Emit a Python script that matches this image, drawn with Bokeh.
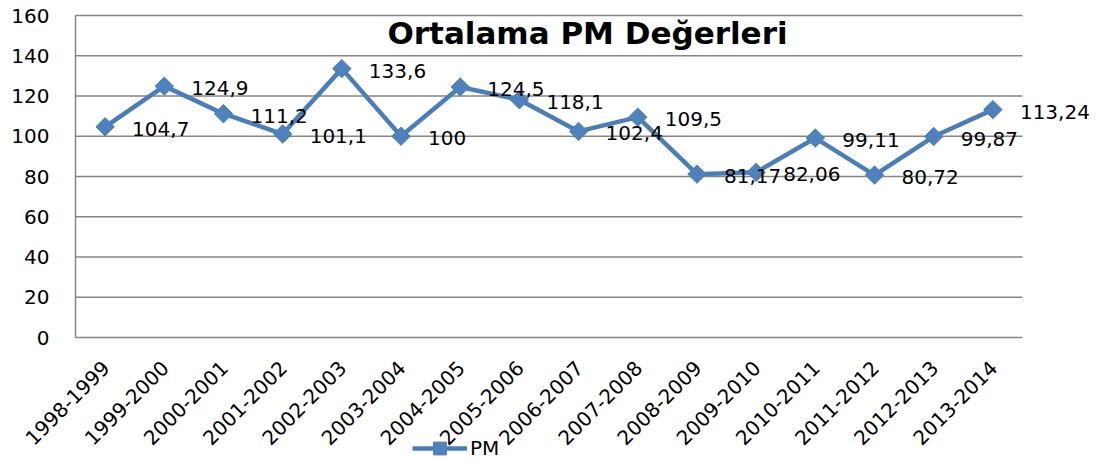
import numpy as np
from bokeh.plotting import figure
from bokeh.models import Range1d, Label, LabelSet, Legend, LegendItem, ColumnDataSource
from bokeh.core.properties import value
from bokeh.embed import file_html
from bokeh.resources import INLINE

# ---- data ----
periods = ["1998-1999", "1999-2000", "2000-2001", "2001-2002", "2002-2003", "2003-2004",
           "2004-2005", "2005-2006", "2006-2007", "2007-2008", "2008-2009", "2009-2010",
           "2010-2011", "2011-2012", "2012-2013", "2013-2014"]
pm_values = [104.7, 124.9, 111.2, 101.1, 133.6, 100, 124.5, 118.1, 102.4, 109.5,
             81.17, 82.06, 99.11, 80.72, 99.87, 113.24]
y_ticks = [0, 20, 40, 60, 80, 100, 120, 140, 160]
y_tick_labels = [str(t) for t in y_ticks]
series_name = "PM"
title_text = "Ortalama PM Değerleri"

n = len(periods)
x_idx = list(range(n))
x_lo, x_hi = -0.5, n - 0.5            # edges of the category bands
labels = [f"{v:g}".replace(".", ",") for v in pm_values]
src = ColumnDataSource(dict(x=x_idx, y=pm_values, lab=labels, period=periods))
grid_src = ColumnDataSource(dict(x0=[x_lo] * len(y_ticks), x1=[x_hi] * len(y_ticks),
                                 y=y_ticks, lab=y_tick_labels))

FONT = "DejaVu Sans"
BLUE = "#4A7EBB"
GRID = "#868686"

# canvas and where the plotting area (bands 0..n, values 0..160) sits on it
W, H = 1101, 461
LEFT, RIGHT, TOP, BOTTOM = 75, 1022, 15, 337
ux = (RIGHT - LEFT) / (x_hi - x_lo)
uy = (BOTTOM - TOP) / (y_ticks[-1] - y_ticks[0])
x_range = Range1d(x_lo - LEFT / ux, x_hi + (W - RIGHT) / ux)
y_range = Range1d(y_ticks[0] - (H - BOTTOM) / uy, y_ticks[-1] + TOP / uy)

p = figure(width=W, height=H, x_range=x_range, y_range=y_range,
           output_backend="svg", toolbar_location=None,
           min_border=0, min_border_left=0, min_border_right=0,
           min_border_top=0, min_border_bottom=0)
p.outline_line_color = None
p.background_fill_color = "white"
p.border_fill_color = "white"
p.xaxis.visible = False
p.yaxis.visible = False
p.xgrid.visible = False
p.ygrid.visible = False

# horizontal grid lines over the category bands
p.segment(x0="x0", x1="x1", y0="y", y1="y", source=grid_src, line_color=GRID,
          line_width=1.3, level="underlay")
# value axis line
p.segment(x0=[x_lo], x1=[x_lo], y0=[y_ticks[0]], y1=[y_ticks[-1]], line_color=GRID,
          line_width=1.5, level="underlay")

# value tick labels
p.add_layout(LabelSet(x=x_lo, y="y", text="lab", source=grid_src, x_offset=-26,
                      text_align="right", text_baseline="middle",
                      text_font=value(FONT), text_font_size=value("20px"),
                      text_color="black"))

# category tick labels, rotated 45 degrees under the axis
p.add_layout(LabelSet(x="x", y=y_ticks[0], text="period", source=src, angle=np.pi / 4,
                      x_offset=1, y_offset=-27, text_align="right", text_baseline="middle",
                      text_font=value(FONT), text_font_size=value("20px"),
                      text_color="black"))

# series
line_r = p.line("x", "y", source=src, line_color=BLUE, line_width=4.5)
mark_r = p.scatter("x", "y", source=src, marker="square", angle=np.pi / 4, size=13,
                   fill_color="#4F81BD", line_color=BLUE, line_width=1)

# data labels
p.add_layout(LabelSet(x="x", y="y", text="lab", source=src, x_offset=27, y_offset=-2,
                      text_align="left", text_baseline="middle",
                      text_font=value(FONT), text_font_size=value("20px"),
                      text_color="black"))

# title overlapping the plot area
p.add_layout(Label(x=587, y=H - 32, x_units="screen", y_units="screen", text=title_text,
                   text_font=FONT, text_font_size="31px", text_font_style="bold",
                   text_align="center", text_baseline="alphabetic", text_color="black"))

legend = Legend(items=[LegendItem(label=series_name, renderers=[line_r, mark_r])],
                location=(412, -3), orientation="horizontal",
                glyph_width=55, glyph_height=32, label_standoff=3, padding=0, margin=0,
                border_line_color=None, background_fill_alpha=0,
                label_text_font=FONT, label_text_font_size="20px", label_text_color="black")
p.add_layout(legend, "center")

open("out.html", "w").write(file_html(p, INLINE))
